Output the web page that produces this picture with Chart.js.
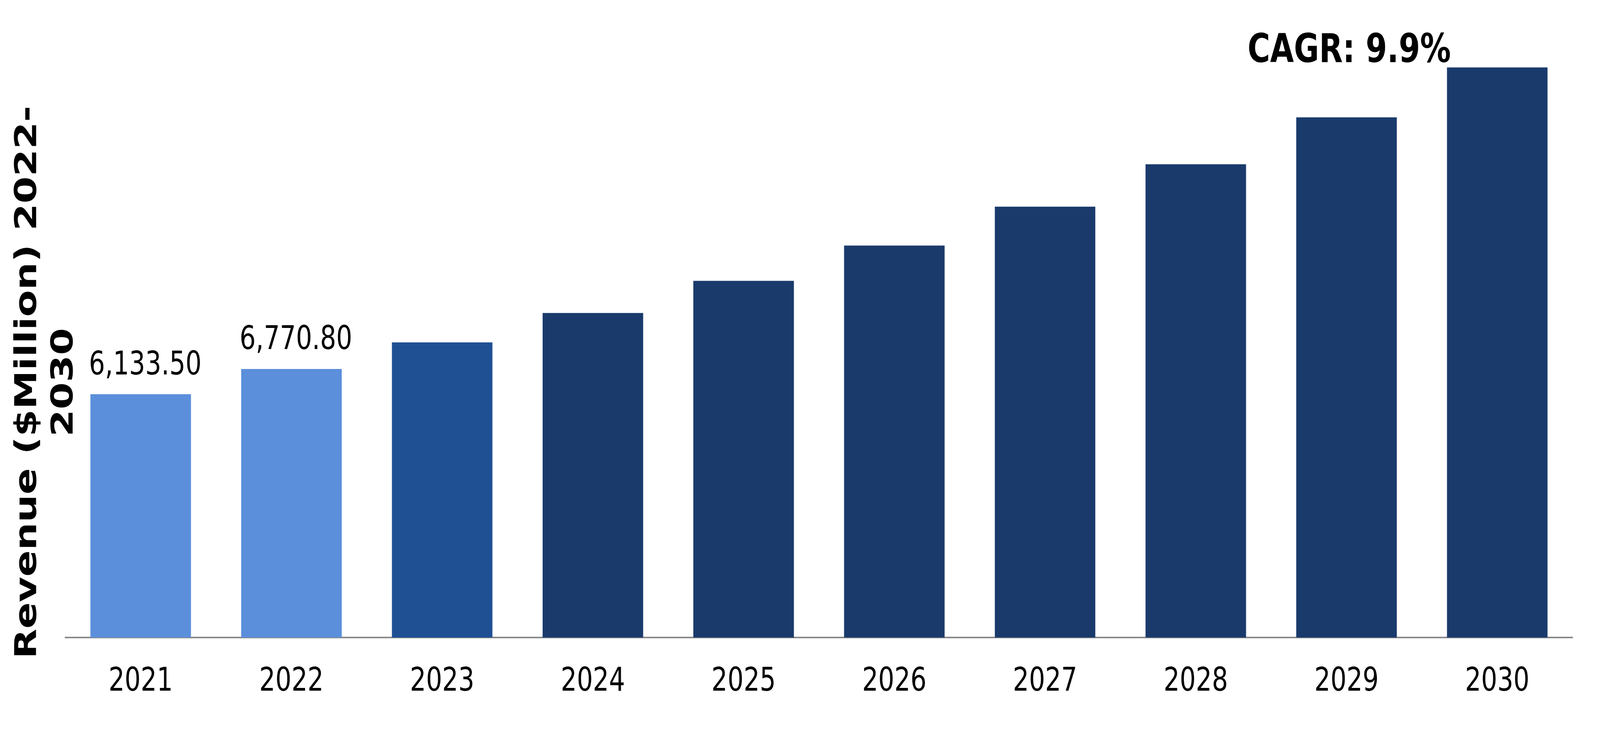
<!DOCTYPE html>
<html>
<head>
<meta charset="utf-8">
<script src="https://cdn.jsdelivr.net/npm/chart.js@4/dist/chart.umd.min.js"></script>
<style>
  html, body { margin: 0; padding: 0; background: #fff; overflow: hidden; }
</style>
</head>
<body>
<canvas id="revenueChart" width="5314" height="1883" style="display:block;width:100vw;height:100vh"></canvas>
<script>
var years = ['2021', '2022', '2023', '2024', '2025', '2026', '2027', '2028', '2029', '2030'];
var revenue = [6133.5, 6770.8, 7440, 8180, 8990, 9880, 10860, 11930, 13110, 14370];
var barColors = ['#5b8fdb', '#5b8fdb', '#1f5094', '#1a3a6c', '#1a3a6c', '#1a3a6c', '#1a3a6c', '#1a3a6c', '#1a3a6c', '#1a3a6c'];
var labelledYears = ['2021', '2022'];
var titleLines = ['Revenue ($Million) 2022-', '2030'];
var cagrText = 'CAGR: 9.9%';

// value labels over the first bars, the rotated axis title and the CAGR note
var textPlugin = {
  id: 'textPlugin',
  afterDatasetsDraw: function (chart) {
    var ctx = chart.ctx;
    var meta = chart.getDatasetMeta(0);
    ctx.save();
    ctx.fillStyle = '#000';
    ctx.textAlign = 'center';
    ctx.textBaseline = 'alphabetic';
    ctx.font = '84px "DejaVu Sans"';
    years.forEach(function (y, i) {
      if (labelledYears.indexOf(y) < 0) return;
      var bar = meta.data[i];
      var txt = revenue[i].toLocaleString('en-US', { minimumFractionDigits: 2, maximumFractionDigits: 2 });
      ctx.fillText(txt, bar.x + 15, bar.y - 51);
    });

    ctx.font = 'bold 102px "DejaVu Sans"';
    ctx.fillText(cagrText, meta.data[8].x + 9, 159);

    ctx.font = 'bold 100px "DejaVu Sans"';
    ctx.translate(0, 978);
    ctx.rotate(-Math.PI / 2);
    ctx.fillText(titleLines[0], 0, 120);
    ctx.fillText(titleLines[1], 0, 241);
    ctx.restore();
  }
};

new Chart('revenueChart', {
  type: 'bar',
  data: {
    labels: years,
    datasets: [{
      data: revenue,
      backgroundColor: barColors,
      borderWidth: 0,
      barPercentage: 0.667,
      categoryPercentage: 1
    }]
  },
  options: {
    responsive: false,
    devicePixelRatio: 1,
    animation: false,
    layout: {
      padding: { left: 217, right: 91, top: 7, bottom: 23 }
    },
    plugins: {
      legend: { display: false },
      tooltip: { enabled: false }
    },
    scales: {
      x: {
        grid: { display: false, drawTicks: false },
        border: { display: true, color: '#8a8a8a', width: 4 },
        ticks: {
          color: '#000',
          padding: 64,
          font: { family: 'DejaVu Sans', size: 84 }
        }
      },
      y: {
        display: false,
        min: 0,
        max: 16000
      }
    }
  },
  plugins: [textPlugin]
});
</script>
</body>
</html>
